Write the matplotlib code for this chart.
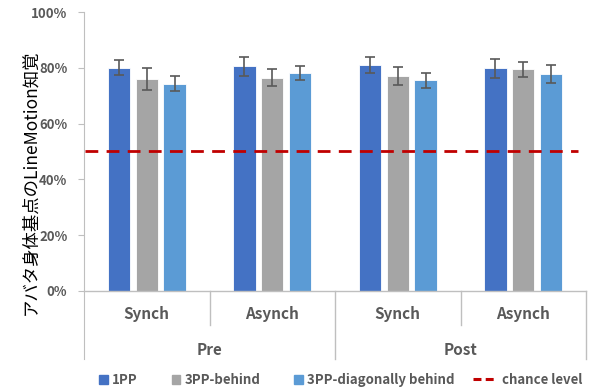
import matplotlib
matplotlib.use("Agg")
import matplotlib.pyplot as plt
from matplotlib.lines import Line2D
from matplotlib.patches import Patch, Rectangle
from matplotlib.legend_handler import HandlerPatch

plt.rcParams['font.family'] = ['Noto Sans CJK JP', 'DejaVu Sans']

# --- data ---
phases = ["Pre", "Post"]
conditions = ["Synch", "Asynch", "Synch", "Asynch"]
series = ["1PP", "3PP-behind", "3PP-diagonally behind"]
val_1pp = [80.1, 80.5, 81.0, 79.8]
err_1pp = [2.8, 3.5, 3.0, 3.4]
val_3pp_behind = [76.0, 76.4, 77.1, 79.5]
err_3pp_behind = [3.8, 3.0, 3.1, 2.7]
val_3pp_diag = [74.3, 78.0, 75.5, 77.8]
err_3pp_diag = [2.8, 2.5, 2.6, 3.2]
chance = 50

colors = ["#4472C4", "#A5A5A5", "#5B9BD5"]
grey = "#595959"
line_grey = "#BFBFBF"

fig = plt.figure(figsize=(5.89, 3.91), dpi=100)
ax = fig.add_axes([84/589, 1-359/391, (586-84)/589, (359-12)/391])

x = list(range(len(conditions)))
offsets = [-0.222, 0.0, 0.222]
width = 0.178
for vals, errs, c, off, name in zip([val_1pp, val_3pp_behind, val_3pp_diag],
                                    [err_1pp, err_3pp_behind, err_3pp_diag],
                                    colors, offsets, series):
    ax.bar([i + off for i in x], vals, width, color=c, edgecolor="white",
           linewidth=0.6, zorder=2, label=name)
    ax.errorbar([i + off for i in x], vals, yerr=errs, fmt="none",
                ecolor=grey, elinewidth=1.2, capsize=3.5, capthick=1.2, zorder=3)

ax.axhline(chance, xmin=0.002, xmax=0.985, color="#C00000", lw=2.0,
           dashes=(4.6, 3.0), zorder=4)

ax.set_xlim(-0.5, 3.5)
ax.set_ylim(-24.4, 100)
ax.set_yticks([0, 20, 40, 60, 80, 100])
ax.set_yticklabels([f"{t}%" for t in [0, 20, 40, 60, 80, 100]],
                   fontsize=9.5, fontweight="bold", color=grey)
ax.tick_params(axis="y", length=4, color=line_grey, pad=8)
ax.set_xticks([])
for s in ["top", "right", "bottom"]:
    ax.spines[s].set_visible(False)
ax.spines["left"].set_color(line_grey)

# category axis lines
ax.plot([-0.5, 3.5], [0, 0], color=line_grey, lw=1, clip_on=False, zorder=5)
for xv in [0.5, 2.5]:
    ax.plot([xv, xv], [0, -12.3], color=line_grey, lw=1, clip_on=False)
for xv in [1.5, 3.5]:
    ax.plot([xv, xv], [0, -24.4], color=line_grey, lw=1, clip_on=False)

for i, c in enumerate(conditions):
    ax.text(i, -8.3, c, ha="center", va="center", fontsize=11,
            fontweight="bold", color=grey)
for j, p in enumerate(phases):
    ax.text(0.5 + 2*j, -21, p, ha="center", va="center", fontsize=11,
            fontweight="bold", color=grey)

fig.text(30/589, 1-182/391, "アバタ身体基点のLineMotion知覚", rotation=90,
         ha="center", va="center", fontsize=12.5, color="black")


# small square drawn at the right end of the legend handle box
def square_right(legend, orig_handle, xdescent, ydescent, width, height, fontsize):
    s = 6.0
    return Rectangle((width - s - xdescent, -ydescent + (height - s) / 2), s, s)


handles = [Patch(color=c) for c in colors]
handles.append(Line2D([0], [0], color="#C00000", lw=2.2, dashes=(2.6, 1.4)))
fig.legend(handles, series + ["chance level"], loc="center",
           bbox_to_anchor=(333/589, 1-380/391), ncol=4, frameon=False,
           prop={"size": 9.5, "weight": "bold"}, labelcolor=grey,
           handlelength=1.8, handletextpad=0.35, columnspacing=1.4,
           handler_map={Patch: HandlerPatch(patch_func=square_right)})

fig.savefig("out.png", dpi=100)
